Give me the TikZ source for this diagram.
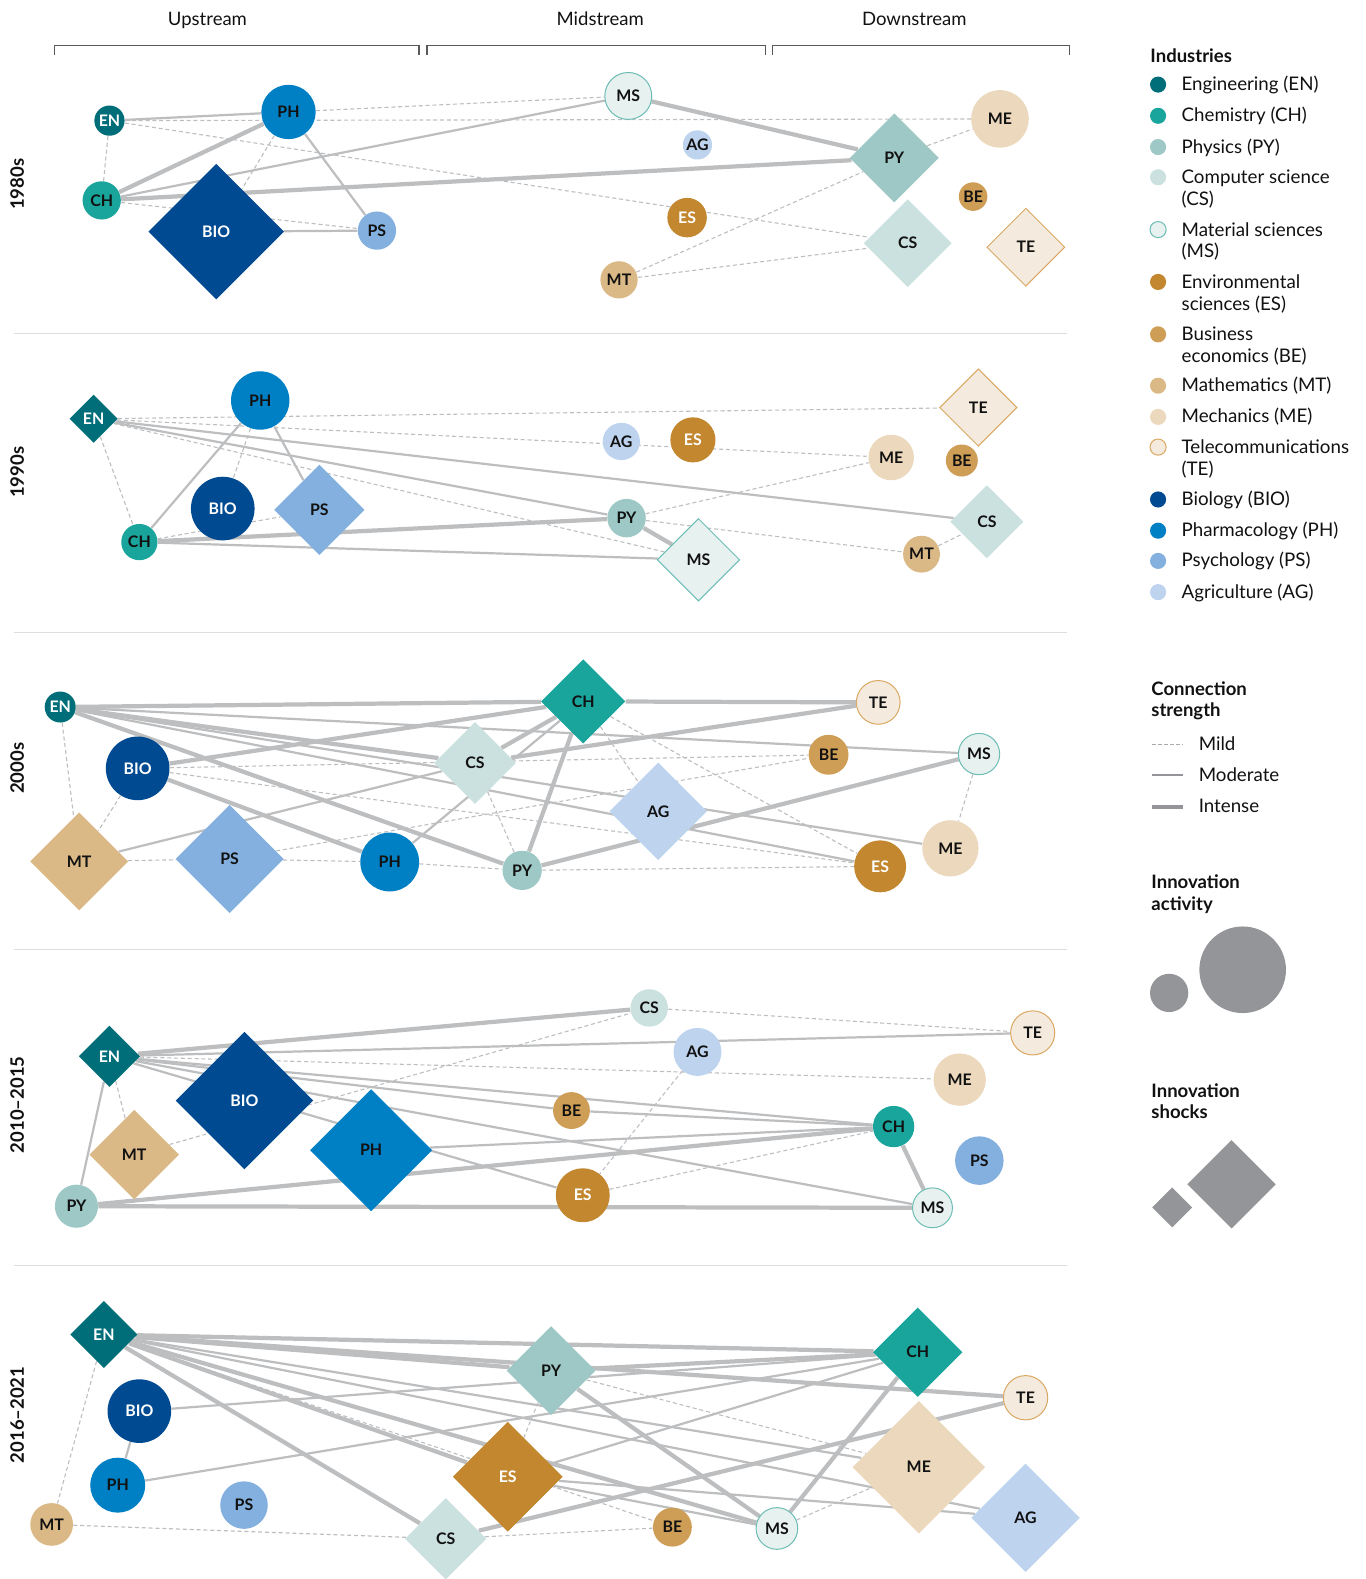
\documentclass[tikz,border=0pt]{standalone}
\usepackage{fontspec}
\setmainfont{Lato}
\usetikzlibrary{shapes.geometric,backgrounds}
\definecolor{cEN}{HTML}{006E78}
\definecolor{cCH}{HTML}{1AA59C}
\definecolor{cPY}{HTML}{9DC8C5}
\definecolor{cCS}{HTML}{CBE1E0}
\definecolor{cMSf}{HTML}{E7F1EF}
\definecolor{cMSd}{HTML}{6DBDB5}
\definecolor{cES}{HTML}{C2872F}
\definecolor{cBE}{HTML}{CF9E56}
\definecolor{cMT}{HTML}{DBB987}
\definecolor{cME}{HTML}{EBD8BD}
\definecolor{cTEf}{HTML}{F4EBDE}
\definecolor{cTEd}{HTML}{DAA862}
\definecolor{cBIO}{HTML}{004A91}
\definecolor{cPH}{HTML}{0080C4}
\definecolor{cPS}{HTML}{83B0DE}
\definecolor{cAG}{HTML}{BED3EE}
\definecolor{edgec}{HTML}{BDBEC0}
\definecolor{txt}{HTML}{111111}
\definecolor{sepc}{HTML}{DEDEDE}
\definecolor{brk}{HTML}{58595B}
\definecolor{lgray}{HTML}{939598}
\tikzset{
 lab/.style={font=\fontsize{7.9}{9}\selectfont\bfseries, text=txt},
 ci/.style={circle, inner sep=0pt, minimum size=#1pt, lab},
 di/.style={diamond, inner sep=0pt, minimum size=#1pt, lab},
 fEN/.style={fill=cEN, text=white},
 fCH/.style={fill=cCH},
 fPY/.style={fill=cPY},
 fCS/.style={fill=cCS},
 fMS/.style={fill=cMSf, draw=cMSd, line width=0.5pt},
 fES/.style={fill=cES, text=white},
 fBE/.style={fill=cBE},
 fMT/.style={fill=cMT},
 fME/.style={fill=cME},
 fTE/.style={fill=cTEf, draw=cTEd, line width=0.5pt},
 fBIO/.style={fill=cBIO, text=white},
 fPH/.style={fill=cPH},
 fPS/.style={fill=cPS},
 fAG/.style={fill=cAG},
 mild/.style={draw=edgec, line width=0.55pt, dash pattern=on 2pt off 1.4pt},
 moderate/.style={draw=edgec, line width=1.1pt},
 intense/.style={draw=edgec, line width=2.1pt},
 sepline/.style={draw=sepc, line width=0.6pt},
 bracket/.style={draw=brk, line width=0.7pt},
 hdr/.style={font=\fontsize{9.2}{11}\selectfont, text=txt, anchor=base},
 dec/.style={font=\fontsize{9.2}{11}\selectfont\bfseries, rotate=90, text=txt},
 legtxt/.style={font=\fontsize{9.3}{10.75}\selectfont, text=txt, inner sep=0pt, align=left},
 leghead/.style={font=\fontsize{9.2}{10.75}\selectfont\bfseries, text=txt, inner sep=0pt, align=left, anchor=north west},
 legdot/.style={circle, inner sep=0pt, minimum size=8pt},
}
\begin{document}
\begin{tikzpicture}[x=0.5pt,y=-0.5pt]
\useasboundingbox (0,0) rectangle (1356,1568);
% headers and brackets
\node[hdr] (hUp) at (206,25) {Upstream};
\node[hdr] (hMid) at (596,25) {Midstream};
\node[hdr] (hDown) at (908,25) {Downstream};
\draw[bracket] (54,55) -- (54,45) -- (416,45) -- (416,55);
\draw[bracket] (424,55) -- (424,45) -- (760,45) -- (760,55);
\draw[bracket] (767,55) -- (767,45) -- (1062,45) -- (1062,55);
% separators
\foreach \yy in {331,628,943,1257} \draw[sepline] (14,\yy) -- (1060,\yy);
% decade labels
\node[dec] (d1) at (17,183) {1980s};
\node[dec] (d2) at (17,469) {1990s};
\node[dec] (d3) at (17,763) {2000s};
\node[dec] (d4) at (17,1097) {2010–2015};
\node[dec] (d5) at (17,1405) {2016–2021};

% ---------------- 1980s ----------------
\node[ci=15, fEN] (aEN) at (108.7,119.8) {EN};
\node[ci=27, fPH] (aPH) at (286.5,111.2) {PH};
\node[ci=19, fCH] (aCH) at (101,199) {CH};
\node[di=67.5, fBIO] (aBIO) at (214.7,230) {BIO};
\node[ci=19, fPS] (aPS) at (374.3,229) {PS};
\node[ci=23.3, fMS] (aMS) at (623.9,95.3) {MS};
\node[ci=14.5, fAG] (aAG) at (692.6,143.9) {AG};
\node[ci=28.6, fME] (aME) at (993,118.1) {ME};
\node[di=44.3, fPY] (aPY) at (888.1,156.8) {PY};
\node[ci=14.2, fBE] (aBE) at (966.3,195.2) {BE};
\node[ci=19.6, fES] (aES) at (682.3,216.1) {ES};
\node[di=43.7, fCS] (aCS) at (901.4,241.5) {CS};
\node[di=38.8, fTE] (aTE) at (1018.7,245.5) {TE};
\node[ci=18.5, fMT] (aMT) at (614.7,277.9) {MT};
\begin{pgfonlayer}{background}
\draw[moderate] (aEN) -- (aPH);
\draw[mild] (aEN) -- (aCH);
\draw[mild] (aEN) -- (aME);
\draw[mild] (aEN) -- (aCS);
\draw[mild] (aPH) -- (aMS);
\draw[mild] (aPH) -- (aBIO);
\draw[moderate] (aPH) -- (aPS);
\draw[intense] (aCH) -- (aPH);
\draw[moderate] (aCH) -- (aMS);
\draw[intense] (aCH) -- (aPY);
\draw[mild] (aCH) -- (aPS);
\draw[moderate] (aBIO) -- (aPS);
\draw[intense] (aMS) -- (aPY);
\draw[mild] (aPY) -- (aME);
\draw[mild] (aMT) -- (aPY);
\draw[mild] (aMT) -- (aCS);
\end{pgfonlayer}

% ---------------- 1990s ----------------
\node[di=24, fEN] (bEN) at (93,415.9) {EN};
\node[ci=29, fPH] (bPH) at (258.4,397.7) {PH};
\node[ci=31.6, fBIO] (bBIO) at (221.2,505) {BIO};
\node[di=45, fPS] (bPS) at (317.2,506.3) {PS};
\node[ci=18, fCH] (bCH) at (138.4,538.3) {CH};
\node[di=38.5, fTE] (bTE) at (971.5,404.7) {TE};
\node[ci=18.5, fAG] (bAG) at (617,438.4) {AG};
\node[ci=22.4, fES] (bES) at (688.1,436.8) {ES};
\node[ci=22.6, fME] (bME) at (885,454.3) {ME};
\node[ci=15.9, fBE] (bBE) at (955.1,457.3) {BE};
\node[di=36.4, fCS] (bCS) at (980,518.2) {CS};
\node[ci=19.1, fPY] (bPY) at (622.2,514.5) {PY};
\node[di=41, fMS] (bMS) at (693.6,555.9) {MS};
\node[ci=18.3, fMT] (bMT) at (915.1,550.3) {MT};
\begin{pgfonlayer}{background}
\draw[mild] (bEN) -- (bTE);
\draw[mild] (bEN) -- (bME);
\draw[moderate] (bEN) -- (bCS);
\draw[moderate] (bEN) -- (bPY);
\draw[mild] (bEN) -- (bMS);
\draw[mild] (bEN) -- (bCH);
\draw[moderate] (bPH) -- (bCH);
\draw[mild] (bPH) -- (bBIO);
\draw[moderate] (bPH) -- (bPS);
\draw[mild] (bCH) -- (bPS);
\draw[intense] (bCH) -- (bPY);
\draw[moderate] (bCH) -- (bMS);
\draw[intense] (bPY) -- (bMS);
\draw[mild] (bPY) -- (bME);
\draw[mild] (bPY) -- (bMT);
\draw[mild] (bMT) -- (bCS);
\end{pgfonlayer}

% ---------------- 2000s ----------------
\node[ci=15.4, fEN] (cEN) at (59.8,702.1) {EN};
\node[ci=31.6, fBIO] (cBIO) at (136.7,763) {BIO};
\node[di=40.8, fCS] (cCS) at (471.7,757.7) {CS};
\node[di=48.8, fMT] (cMT) at (78.6,855.4) {MT};
\node[di=53.7, fPS] (cPS) at (228,853) {PS};
\node[ci=29.2, fPH] (cPH) at (387,856) {PH};
\node[ci=19.5, fPY] (cPY) at (518.5,864.3) {PY};
\node[di=41.9, fCH] (cCH) at (579.1,696.5) {CH};
\node[ci=21.7, fTE] (cTE) at (872.1,697.5) {TE};
\node[ci=19.8, fBE] (cBE) at (822.8,749.5) {BE};
\node[ci=20.5, fMS] (cMS) at (972.2,748.8) {MS};
\node[di=48.5, fAG] (cAG) at (653.6,805.7) {AG};
\node[ci=27.9, fME] (cME) at (943.8,842.4) {ME};
\node[ci=25.8, fES] (cES) at (874,860.3) {ES};
\begin{pgfonlayer}{background}
\draw[intense] (cEN) -- (cCH);
\draw[intense] (cCH) -- (cTE);
\draw[moderate] (cEN) -- (cMS);
\draw[intense] (cEN) -- (cCS);
\draw[moderate] (cEN) -- (cME);
\draw[moderate] (cEN) -- (cES);
\draw[intense] (cEN) -- (cPY);
\draw[mild] (cEN) -- (cMT);
\draw[intense] (cBIO) -- (cCH);
\draw[intense] (cBIO) -- (cPH);
\draw[mild] (cBIO) -- (cBE);
\draw[mild] (cBIO) -- (cES);
\draw[mild] (cBIO) -- (cMT);
\draw[moderate] (cMT) -- (cCS);
\draw[mild] (cMT) -- (cPS);
\draw[mild] (cPS) -- (cPH);
\draw[mild] (cPH) -- (cPY);
\draw[mild] (cPS) -- (cBE);
\draw[moderate] (cPH) -- (cCH);
\draw[intense] (cCS) -- (cCH);
\draw[mild] (cCS) -- (cPY);
\draw[intense] (cCS) -- (cTE);
\draw[intense] (cCH) -- (cPY);
\draw[mild] (cCH) -- (cAG);
\draw[mild] (cCH) -- (cES);
\draw[intense] (cPY) -- (cMS);
\draw[mild] (cPY) -- (cES);
\draw[mild] (cMS) -- (cME);
\end{pgfonlayer}

% ---------------- 2010-2015 ----------------
\node[di=30.5, fEN] (dEN) at (108.7,1048.9) {EN};
\node[di=68.4, fBIO] (dBIO) at (242.7,1092.9) {BIO};
\node[di=44.6, fMT] (dMT) at (133.3,1146.5) {MT};
\node[di=60.7, fPH] (dPH) at (368.5,1142.2) {PH};
\node[ci=21.4, fPY] (dPY) at (75.9,1197.8) {PY};
\node[ci=18.6, fCS] (dCS) at (644.7,1000.9) {CS};
\node[ci=23.8, fAG] (dAG) at (692.6,1044.6) {AG};
\node[ci=21.9, fTE] (dTE) at (1025.5,1025.7) {TE};
\node[ci=26, fME] (dME) at (953,1072.1) {ME};
\node[ci=18.3, fBE] (dBE) at (567.5,1102.8) {BE};
\node[ci=20.5, fCH] (dCH) at (887.4,1118.7) {CH};
\node[ci=24.1, fPS] (dPS) at (972.5,1152.5) {PS};
\node[ci=26.8, fES] (dES) at (578.7,1186.9) {ES};
\node[ci=19.8, fMS] (dMS) at (926,1199.4) {MS};
\begin{pgfonlayer}{background}
\draw[intense] (dEN) -- (dCS);
\draw[moderate] (dEN) -- (dTE);
\draw[mild] (dEN) -- (dME);
\draw[moderate] (dEN) -- (dCH);
\draw[moderate] (dEN) -- (dBE);
\draw[moderate] (dBE) -- (dCH);
\draw[moderate] (dEN) -- (dMS);
\draw[moderate] (dEN) -- (dES);
\draw[moderate] (dPY) -- (dEN);
\draw[mild] (dEN) -- (dMT);
\draw[mild] (dMT) -- (dCS);
\draw[intense] (dPY) -- (dCH);
\draw[intense] (dPY) -- (dMS);
\draw[moderate] (dPH) -- (dCH);
\draw[mild] (dCS) -- (dTE);
\draw[mild] (dAG) -- (dES);
\draw[mild] (dES) -- (dCH);
\draw[intense] (dCH) -- (dMS);
\end{pgfonlayer}

% ---------------- 2016-2021 ----------------
\node[di=33.4, fEN] (eEN) at (103.2,1325.2) {EN};
\node[ci=31.6, fBIO] (eBIO) at (138.4,1401.3) {BIO};
\node[ci=27.3, fPH] (ePH) at (116.9,1474.8) {PH};
\node[ci=23.6, fPS] (ePS) at (242.3,1494.6) {PS};
\node[ci=21.2, fMT] (eMT) at (51.3,1513.8) {MT};
\node[di=40.5, fCS] (eCS) at (442.6,1528) {CS};
\node[di=54.6, fES] (eES) at (504.2,1466.5) {ES};
\node[di=44.2, fPY] (ePY) at (547.3,1361) {PY};
\node[di=44.5, fCH] (eCH) at (911.4,1342.8) {CH};
\node[ci=22, fTE] (eTE) at (1018.4,1388) {TE};
\node[di=66, fME] (eME) at (912.4,1457) {ME};
\node[di=54, fAG] (eAG) at (1018.4,1507.2) {AG};
\node[ci=19.3, fBE] (eBE) at (667.7,1516.5) {BE};
\node[ci=20.7, fMS] (eMS) at (771.5,1517.8) {MS};
\begin{pgfonlayer}{background}
\draw[intense] (eEN) -- (ePY);
\draw[intense] (eEN) -- (eCH);
\draw[intense] (eEN) -- (eTE);
\draw[moderate] (eEN) -- (eME);
\draw[moderate] (eEN) -- (eAG);
\draw[intense] (eEN) -- (eES);
\draw[intense] (eEN) -- (eMS);
\draw[intense] (eEN) -- (eCS);
\draw[mild] (eEN) -- (eBE);
\draw[mild] (eEN) -- (eMT);
\draw[moderate] (eBIO) -- (ePH);
\draw[moderate] (eBIO) -- (eCH);
\draw[moderate] (ePH) -- (eCH);
\draw[intense] (ePY) -- (eCH);
\draw[moderate] (eES) -- (eCH);
\draw[intense] (eCS) -- (eTE);
\draw[mild] (eMT) -- (eCS);
\draw[mild] (eCS) -- (eBE);
\draw[mild] (ePY) -- (eES);
\draw[intense] (ePY) -- (eMS);
\draw[mild] (ePY) -- (eME);
\draw[intense] (eCH) -- (eMS);
\draw[mild] (eMS) -- (eME);
\draw[moderate] (eES) -- (eMS);
\draw[moderate] (eES) -- (eAG);
\end{pgfonlayer}

% ---------------- legend ----------------
\node[leghead] (lhInd) at (1142,47) {\strut Industries};
\node[legdot, fill=cEN] (lEN) at (1150,84) {};
\node[legtxt, anchor=base west] (tEN) at (1173,90) {Engineering (EN)};
\node[legdot, fill=cCH] (lCH) at (1150,115) {};
\node[legtxt, anchor=base west] (tCH) at (1173,121) {Chemistry (CH)};
\node[legdot, fill=cPY] (lPY) at (1150,146) {};
\node[legtxt, anchor=base west] (tPY) at (1173,152) {Physics (PY)};
\node[legdot, fill=cCS] (lCS) at (1150,176) {};
\node[legtxt, anchor=north west] (tCS) at (1173,167) {\strut Computer science\\(CS)};
\node[legdot, fill=cMSf, draw=cMSd, line width=0.5pt] (lMS) at (1150,228) {};
\node[legtxt, anchor=north west] (tMS) at (1173,219) {\strut Material sciences\\(MS)};
\node[legdot, fill=cES] (lES) at (1150,280) {};
\node[legtxt, anchor=north west] (tES) at (1173,271) {\strut Environmental\\sciences (ES)};
\node[legdot, fill=cBE] (lBE) at (1150,332) {};
\node[legtxt, anchor=north west] (tBE) at (1173,323) {\strut Business\\economics (BE)};
\node[legdot, fill=cMT] (lMT) at (1150,383) {};
\node[legtxt, anchor=base west] (tMT) at (1173,389) {Mathematics (MT)};
\node[legdot, fill=cME] (lME) at (1150,414) {};
\node[legtxt, anchor=base west] (tME) at (1173,420) {Mechanics (ME)};
\node[legdot, fill=cTEf, draw=cTEd, line width=0.5pt] (lTE) at (1150,444) {};
\node[legtxt, anchor=north west] (tTE) at (1173,435) {\strut Telecommunications\\(TE)};
\node[legdot, fill=cBIO] (lBIO) at (1150,496) {};
\node[legtxt, anchor=base west] (tBIO) at (1173,502) {Biology (BIO)};
\node[legdot, fill=cPH] (lPH) at (1150,527) {};
\node[legtxt, anchor=base west] (tPH) at (1173,533) {Pharmacology (PH)};
\node[legdot, fill=cPS] (lPS) at (1150,557) {};
\node[legtxt, anchor=base west] (tPS) at (1173,563) {Psychology (PS)};
\node[legdot, fill=cAG] (lAG) at (1150,588) {};
\node[legtxt, anchor=base west] (tAG) at (1173,594) {Agriculture (AG)};

\node[leghead] (lhCon) at (1143,675) {\strut Connection\\strength};
\coordinate (m1a) at (1144,739); \coordinate (m1b) at (1175,739);
\coordinate (m2a) at (1144,770); \coordinate (m2b) at (1175,770);
\coordinate (m3a) at (1144,801); \coordinate (m3b) at (1175,801);
\draw[draw=lgray!80, line width=0.5pt, dash pattern=on 1.8pt off 1.2pt] (m1a) -- (m1b);
\draw[draw=lgray, line width=1pt] (m2a) -- (m2b);
\draw[draw=lgray, line width=2pt] (m3a) -- (m3b);
\node[legtxt, anchor=base west] (tMild) at (1190,745) {Mild};
\node[legtxt, anchor=base west] (tMod) at (1190,776) {Moderate};
\node[legtxt, anchor=base west] (tInt) at (1190,807) {Intense};

\node[leghead] (lhAct) at (1143,867) {\strut Innovation\\activity};
\node[circle, fill=lgray, inner sep=0pt, minimum size=19pt] (actS) at (1161,986) {};
\node[circle, fill=lgray, inner sep=0pt, minimum size=43pt] (actL) at (1234,963) {};

\node[leghead] (lhShk) at (1143,1074) {\strut Innovation\\shocks};
\node[diamond, fill=lgray, inner sep=0pt, minimum size=20pt] (shS) at (1164,1199) {};
\node[diamond, fill=lgray, inner sep=0pt, minimum size=44pt] (shL) at (1223,1176) {};
\end{tikzpicture}
\end{document}
